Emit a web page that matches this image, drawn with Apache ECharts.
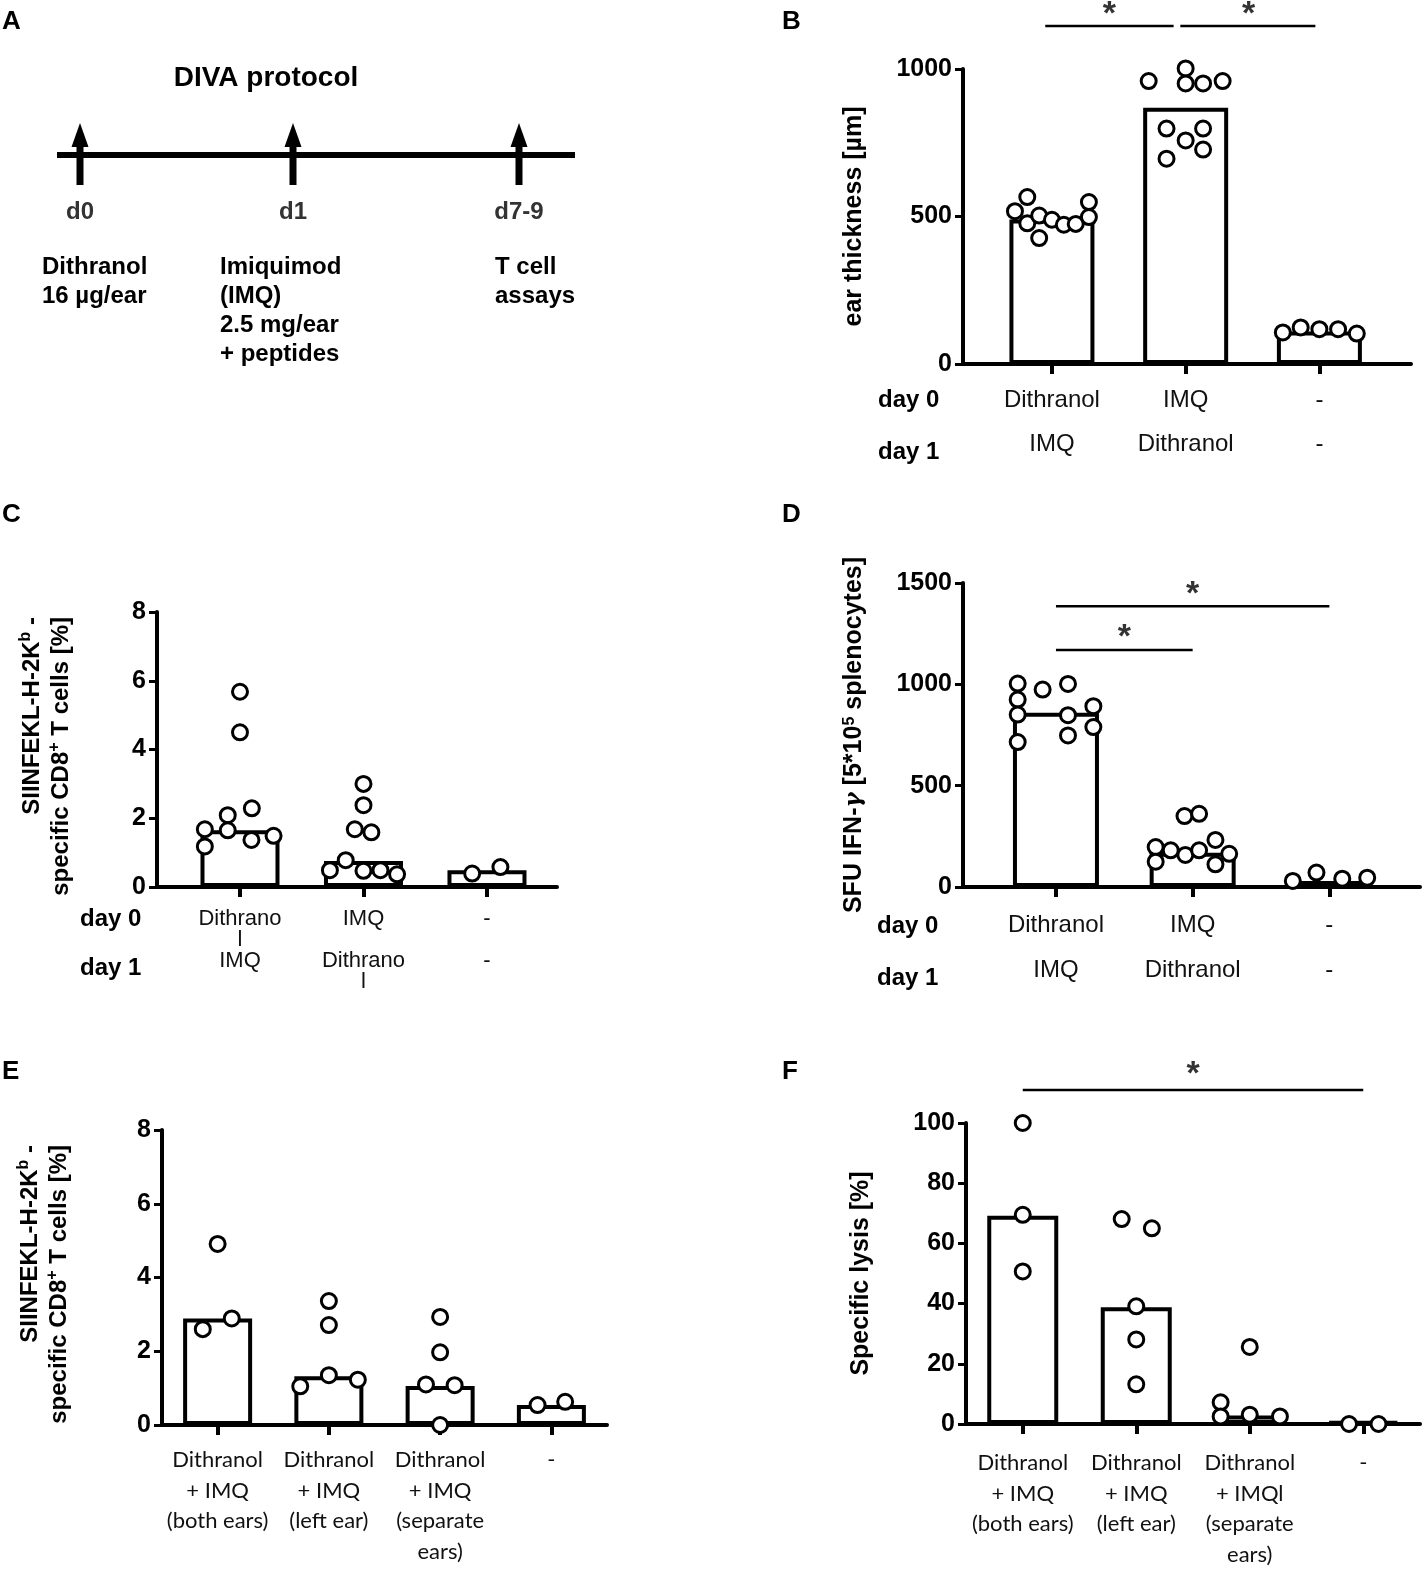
<!DOCTYPE html>
<html>
<head>
<meta charset="utf-8">
<script src="https://cdn.jsdelivr.net/npm/echarts@6/dist/echarts.min.js"></script>
<style>
html, body { margin: 0; padding: 0; background: #fff; }
#chart { width: 1424px; height: 1572px; }
</style>
</head>
<body>
<div id="chart"></div>
<script>
// ---- data ----
// A: protocol timeline
const aTitle = 'DIVA protocol';
const aDays = ['d0', 'd1', 'd7-9'];
const aNotes = [['Dithranol', '16 µg/ear'], ['Imiquimod', '(IMQ)', '2.5 mg/ear', '+ peptides'], ['T cell', 'assays']];

// B: ear thickness
const bDay0 = ['Dithranol', 'IMQ', '-'];
const bDay1 = ['IMQ', 'Dithranol', '-'];
const bBars = [490, 869, 110];
const bDots = [
  [518, 566, 477, 503, 427, 489, 472, 475, 549, 498],
  [959, 1002, 951, 951, 959, 798, 798, 758, 727, 696],
  [107, 124, 118, 118, 103]
];
const bJitter = [
  [-0.87, -0.58, -0.58, -0.3, -0.3, 0, 0.28, 0.56, 0.87, 0.87],
  [-0.87, 0, 0, 0.41, 0.87, -0.45, 0.41, 0, 0.41, -0.45],
  [-0.86, -0.44, 0, 0.44, 0.88]
];
const bSigLines = [[0.95, 1.91, 1146], [1.96, 2.97, 1146]];
const bSigStars = [[1.43, 1185], [2.47, 1185]];

// C: tetramer+ CD8 T cells
const cDay0 = ['Dithrano\nl', 'IMQ', '-'];
const cDay1 = ['IMQ', 'Dithrano\nl', '-'];
const cBars = [1.65, 0.76, 0.49];
const cDots = [
  [5.68, 4.5, 2.29, 2.09, 1.68, 1.65, 1.37, 1.49, 1.18],
  [3.0, 2.38, 1.68, 1.59, 0.78, 0.49, 0.47, 0.49, 0.37],
  [0.39, 0.58]
];
const cJitter = [
  [0, 0, 0.3, -0.31, -0.89, -0.31, 0.29, 0.85, -0.89],
  [0, 0, -0.22, 0.2, -0.45, -0.85, 0, 0.43, 0.85],
  [-0.375, 0.34]
];

// D: IFN-g ELISpot
const dDay0 = ['Dithranol', 'IMQ', '-'];
const dDay1 = ['IMQ', 'Dithranol', '-'];
const dBars = [860, 169, 30];
const dDots = [
  [1004, 925, 851, 715, 974, 1002, 848, 748, 892, 789],
  [350, 361, 232, 197, 181, 158, 181, 164, 125, 112],
  [30, 71, 41, 46]
];
const dJitter = [
  [-0.89, -0.89, -0.89, -0.89, -0.31, 0.28, 0.28, 0.28, 0.87, 0.87],
  [-0.19, 0.15, 0.53, -0.86, -0.51, -0.17, 0.15, 0.85, -0.86, 0.53],
  [-0.85, -0.3, 0.3, 0.88]
];
const dSigLines = [[1, 3, 1385], [1, 2, 1170]];
const dSigStars = [[2, 1445], [1.5, 1230]];

// E: tetramer+ CD8 T cells, application site
const eLabels = ['Dithranol\n+ IMQ\n(both ears)', 'Dithranol\n+ IMQ\n(left ear)', 'Dithranol\n+ IMQ\n(separate\nears)', '-'];
const eBars = [2.89, 1.32, 1.06, 0.54];
const eDots = [[4.91, 2.6, 2.89], [3.36, 2.71, 1.35, 1.05, 1.23], [2.93, 1.97, 1.1, 1.08, 0], [0.54, 0.63]];
const eJitter = [[0, -0.43, 0.41], [0, 0, 0, -0.83, 0.84], [0, 0, -0.41, 0.42, 0], [-0.4, 0.4]];

// F: in vivo lysis
const fLabels = ['Dithranol\n+ IMQ\n(both ears)', 'Dithranol\n+ IMQ\n(left ear)', 'Dithranol\n+ IMQl\n(separate\nears)', '-'];
const fBars = [69.2, 38.8, 2.8, 0.9];
const fDots = [[100, 69.5, 50.7], [68.1, 65.0, 39.1, 28.1, 13.2], [25.6, 7.2, 2.5, 3.1, 2.5], [0, 0]];
const fJitter = [[0, 0, 0], [-0.41, 0.44, 0, 0, 0], [0, -0.82, -0.82, 0, 0.85], [-0.4, 0.43]];
const fSigLines = [[1, 4, 111]];
const fSigStars = [[2.5, 116]];

// ---- styling ----
const FONT = "'Liberation Sans', Arial, sans-serif";
const NARROW = "'Liberation Sans Narrow', 'Arial Narrow', 'Liberation Sans', sans-serif";
const SOFT = "Lato, 'Open Sans', sans-serif";

function twoRow(day0, day1, pad) {
  return day0.map((d, i) => {
    let lines = d.split('\n');
    while (lines.length < pad) lines.push('');
    return lines.concat(day1[i].split('\n')).join('\n');
  });
}

const panels = [
  { grid: { left: 963, top: 69, width: 448, height: 295 }, xMin: 0.335, xMax: 3.685, yMax: 1000, yInt: 500,
    barWidth: 85, bars: bBars, dots: bDots, jitter: bJitter, sigLines: bSigLines, sigStars: bSigStars,
    labels: twoRow(bDay0, bDay1, 1), labelFont: NARROW, labelSize: 24, lineHeight: 44, labelMargin: 14,
    name: 'ear thickness [µm]', nameGap: 96 },
  { grid: { left: 157, top: 612, width: 400, height: 275 }, xMin: 0.328, xMax: 3.567, yMax: 8, yInt: 2,
    barWidth: 79, bars: cBars, dots: cDots, jitter: cJitter, sigLines: [], sigStars: [],
    labels: twoRow(cDay0, cDay1, 2), labelFont: NARROW, labelSize: 22, lineHeight: 21, labelMargin: 21,
    name: '', nameGap: 0 },
  { grid: { left: 963, top: 583, width: 457, height: 304 }, xMin: 0.32, xMax: 3.663, yMax: 1500, yInt: 500,
    barWidth: 86, bars: dBars, dots: dDots, jitter: dJitter, sigLines: dSigLines, sigStars: dSigStars,
    labels: twoRow(dDay0, dDay1, 1), labelFont: NARROW, labelSize: 24, lineHeight: 45, labelMargin: 16,
    name: '{b|SFU IFN-}{g|γ}{b| [5*10}{s|5}{b| splenocytes]}', nameGap: 96 },
  { grid: { left: 162, top: 1130, width: 445, height: 295 }, xMin: 0.5, xMax: 4.5, yMax: 8, yInt: 2,
    barWidth: 69, bars: eBars, dots: eDots, jitter: eJitter, sigLines: [], sigStars: [],
    labels: eLabels, labelFont: SOFT, labelSize: 22, lineHeight: 30.5, labelMargin: 20,
    name: '', nameGap: 0 },
  { grid: { left: 966, top: 1123, width: 454, height: 301 }, xMin: 0.5, xMax: 4.5, yMax: 100, yInt: 20,
    barWidth: 71, bars: fBars, dots: fDots, jitter: fJitter, sigLines: fSigLines, sigStars: fSigStars,
    labels: fLabels, labelFont: SOFT, labelSize: 22, lineHeight: 30.5, labelMargin: 24,
    name: 'Specific lysis [%]', nameGap: 92 }
];

const grids = [], xAxes = [], yAxes = [], series = [];
panels.forEach((p, i) => {
  grids.push(Object.assign({ containLabel: false }, p.grid));
  const cats = p.bars.map((_, k) => k + 1);
  xAxes.push({
    type: 'value', gridIndex: i, min: p.xMin, max: p.xMax,
    axisLine: { show: true, onZero: false, lineStyle: { color: '#000', width: 4 } },
    axisTick: { show: true, customValues: cats, length: 10, lineStyle: { color: '#000', width: 4 } },
    axisLabel: {
      customValues: cats, margin: p.labelMargin, color: '#111',
      fontFamily: p.labelFont, fontSize: p.labelSize, lineHeight: p.lineHeight, align: 'center',
      formatter: v => p.labels[Math.round(v) - 1]
    },
    splitLine: { show: false }
  });
  yAxes.push({
    type: 'value', gridIndex: i, min: 0, max: p.yMax, interval: p.yInt,
    name: p.name, nameLocation: 'middle', nameGap: p.nameGap,
    nameTextStyle: {
      fontFamily: FONT, fontSize: 25, fontWeight: 'bold', color: '#000',
      rich: {
        b: { fontFamily: FONT, fontSize: 25, fontWeight: 'bold', color: '#000' },
        g: { fontFamily: "'DejaVu Serif', serif", fontStyle: 'italic', fontSize: 23, color: '#000' },
        s: { fontFamily: FONT, fontSize: 16, fontWeight: 'bold', color: '#000', verticalAlign: 'top', lineHeight: 14 }
      }
    },
    axisLine: { show: true, onZero: false, lineStyle: { color: '#000', width: 4 } },
    axisTick: { show: true, length: 8, lineStyle: { color: '#000', width: 3 } },
    axisLabel: { margin: 11, fontFamily: FONT, fontSize: 25, fontWeight: 'bold', color: '#000',
      formatter: v => String(v) },
    splitLine: { show: false }
  });

  series.push({
    type: 'bar', xAxisIndex: i, yAxisIndex: i, barWidth: p.barWidth, silent: true,
    data: p.bars.map((v, k) => [k + 1, v]),
    itemStyle: { color: '#fff', borderColor: '#000', borderWidth: 4 }, z: 2
  });

  const spacing = p.grid.width / (p.xMax - p.xMin);
  const halfUnits = p.barWidth / 2 / spacing;
  const pts = [];
  p.dots.forEach((grp, k) => grp.forEach((v, j) => pts.push([k + 1 + p.jitter[k][j] * halfUnits, v])));
  series.push({
    type: 'scatter', xAxisIndex: i, yAxisIndex: i, data: pts, clip: false, silent: true,
    symbol: 'circle', symbolSize: 15,
    itemStyle: { color: '#fff', borderColor: '#000', borderWidth: 3, opacity: 1 }, z: 3
  });

  p.sigLines.forEach(s => series.push({
    type: 'line', xAxisIndex: i, yAxisIndex: i, clip: false, silent: true, symbol: 'none',
    data: [[s[0], s[2]], [s[1], s[2]]], lineStyle: { color: '#000', width: 2.5 }, z: 4
  }));
  if (p.sigStars.length) series.push({
    type: 'scatter', xAxisIndex: i, yAxisIndex: i, clip: false, silent: true,
    data: p.sigStars, symbolSize: 1, itemStyle: { color: 'transparent' },
    label: { show: true, position: 'inside', formatter: '*', fontFamily: FONT, fontSize: 34, fontWeight: 'bold', color: '#000' },
    z: 4
  });
});

// ---- free text and the protocol diagram ----
const graphic = [];
function txt(x, y, text, size, opts) {
  graphic.push({ type: 'text', x: x, y: y, style: Object.assign({
    text: text, fontFamily: FONT, fontSize: size, fontWeight: 'bold', fill: '#000',
    align: 'left', verticalAlign: 'middle' }, opts || {}) });
}
[['A', 2, 22], ['B', 782, 22], ['C', 2, 515], ['D', 782, 515], ['E', 2, 1072], ['F', 782, 1072]]
  .forEach(l => txt(l[1], l[2], l[0], 26));

// timeline
txt(266, 78, aTitle, 28, { align: 'center' });
graphic.push({ type: 'rect', shape: { x: 57, y: 152, width: 518, height: 6 }, style: { fill: '#000' } });
const arrowX = [80, 293, 519];
arrowX.forEach((x, i) => {
  graphic.push({ type: 'rect', shape: { x: x - 3.5, y: 140, width: 7, height: 45 }, style: { fill: '#000' } });
  graphic.push({ type: 'polygon', shape: { points: [[x, 123], [x - 8.5, 147], [x + 8.5, 147]] }, style: { fill: '#000' } });
  txt(x, 212, aDays[i], 24, { align: 'center', fill: '#333' });
});
const noteX = [42, 220, 495];
aNotes.forEach((lines, i) => lines.forEach((t, j) => txt(noteX[i], 267 + j * 29, t, 24)));

// row labels
[['day 0', 878, 400], ['day 1', 878, 452], ['day 0', 80, 919], ['day 1', 80, 968],
 ['day 0', 877, 926], ['day 1', 877, 978]].forEach(r => txt(r[1], r[2], r[0], 24));

// two-line rotated y titles for C and E
const tetTitle = '{t|SIINFEKL-H-2K}{s|b}{t| -}\n{t|specific CD8}{s|+}{t| T cells [%]}';
const tetRich = {
  t: { fontFamily: FONT, fontSize: 24, fontWeight: 'bold', fill: '#000', lineHeight: 29 },
  s: { fontFamily: FONT, fontSize: 16, fontWeight: 'bold', fill: '#000', verticalAlign: 'top', lineHeight: 14 }
};
[[47, 617], [45, 1145]].forEach(pos => graphic.push({
  type: 'text', x: pos[0], y: pos[1], rotation: Math.PI / 2,
  style: { text: tetTitle, rich: tetRich, align: 'right', verticalAlign: 'middle' }
}));

const chart = echarts.init(document.getElementById('chart'));
chart.setOption({
  animation: false,
  backgroundColor: '#fff',
  grid: grids, xAxis: xAxes, yAxis: yAxes, series: series, graphic: graphic
});
</script>
</body>
</html>
